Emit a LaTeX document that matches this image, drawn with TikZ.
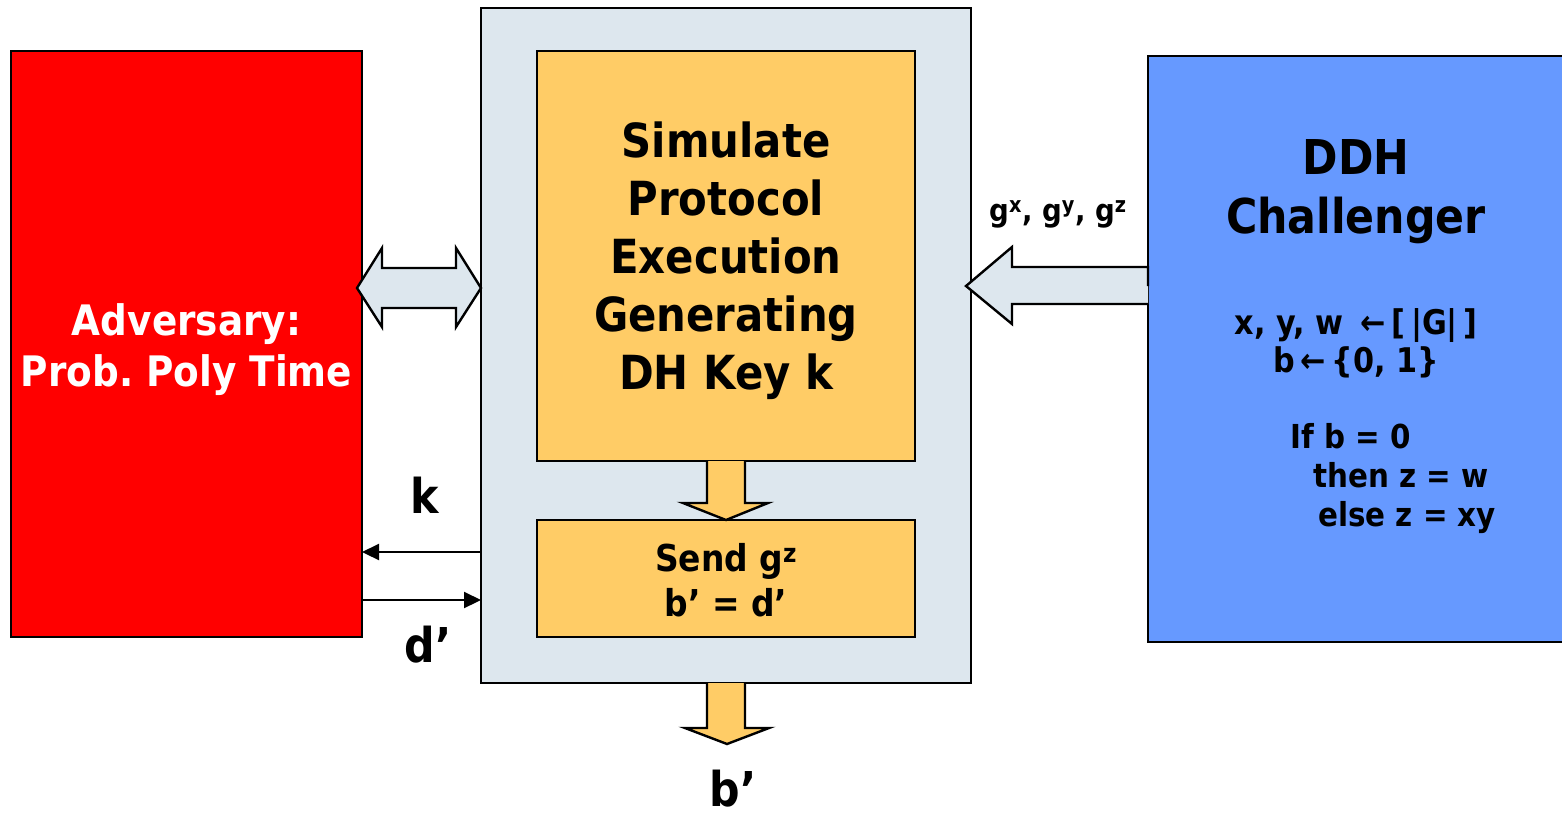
\documentclass[tikz,border=0pt]{standalone}
\usepackage{fontspec}
\setmainfont{DejaVu Sans}[FakeStretch=0.89]
\usetikzlibrary{arrows.meta,calc}

\definecolor{panelgray}{RGB}{221,231,238}
\definecolor{stepamber}{RGB}{255,204,102}
\definecolor{chalblue}{RGB}{102,153,255}
\definecolor{advred}{RGB}{255,0,0}

\newcommand\txtsize[2]{\fontsize{#1}{#2}\selectfont}
\frenchspacing

\tikzset{
  box/.style={draw=black, line width=2.6pt, rectangle, inner sep=0pt,
              outer sep=0pt, anchor=north west, align=center},
  blockarrow/.style={draw=black, line width=2.4pt, line join=miter},
  thinarrow/.style={draw=black, line width=2.2pt,
                    -{Triangle[length=17pt,width=16pt]}},
  label/.style={inner sep=0pt, align=center},
  tag/.style={inner sep=0pt, font=\bfseries\txtsize{48}{58}}
}

\begin{document}
\begin{tikzpicture}[x=1pt,y=-1pt]
\fill[white] (0,0) rectangle (1562,817);
\useasboundingbox (0,0) rectangle (1562,817);

% main boxes
\node[box, fill=advred, minimum width=351pt, minimum height=586pt] (adv) at (11,51) {};
\node[box, fill=panelgray, minimum width=490pt, minimum height=675pt] (sim) at (481,8) {};
\node[box, fill=stepamber, minimum width=378pt, minimum height=410pt] (proto) at (537,51) {};
\node[box, fill=stepamber, minimum width=378pt, minimum height=117pt] (send) at (537,520) {};
\node[box, fill=chalblue, minimum width=430pt, minimum height=586pt] (chal) at (1148,56) {};

% box texts
\node[label, text=white, font=\bfseries\txtsize{42}{51}] (advtxt)
      at ($(adv.center)+(0,6)$) {Adversary:\\Prob. Poly Time};
\node[label, font=\bfseries\txtsize{47}{58}] (prototxt)
      at ($(proto.center)+(0,5)$)
      {Simulate\\Protocol\\Execution\\Generating\\DH Key k};
\node[label, font=\bfseries\txtsize{37}{45}] (sendtxt)
      at ($(send.center)+(0,2)$) {Send g\textsuperscript{z}\\b’ = d’};

% challenger texts
\node[label, font=\bfseries\txtsize{48}{59}] (ddh) at (1356,192) {DDH\\Challenger};
\node[label, font=\bfseries\txtsize{34}{38}] (pick) at (1356,343)
      {x, y, w\enspace←\,[\,|G|\,]\\b\,←\,\{0, 1\}};
\node[label, anchor=west, align=left, font=\bfseries\txtsize{33}{39}] (cases) at (1290,479)
      {If b = 0\\\hspace*{23pt}then z = w\\\hspace*{28pt}else z = xy};

% exchange between adversary and simulator
\coordinate (dl) at (357,288);
\coordinate (dr) at (481,288);
\draw[blockarrow, fill=panelgray]
  (dl) -- ($(dl)+(25,-40)$) -- ($(dl)+(25,-20)$) -- ($(dr)+(-25,-20)$)
  -- ($(dr)+(-25,-40)$) -- (dr) -- ($(dr)+(-25,39)$) -- ($(dr)+(-25,20)$)
  -- ($(dl)+(25,20)$) -- ($(dl)+(25,39)$) -- cycle;

% challenge values sent to the simulator
\coordinate (cs) at (chal.west |- 0,286);
\coordinate (ct) at (966,286);
\draw[blockarrow, fill=panelgray]
  (cs) -- ($(cs)+(0,-19)$) -- ($(ct)+(46,-19)$) -- ($(ct)+(46,-39)$)
  -- (ct) -- ($(ct)+(46,38)$) -- ($(ct)+(46,18)$) -- ($(cs)+(0,18)$);
\node[label, font=\bfseries\txtsize{31}{36}] (gvals) at (1058,214)
  {g\textsuperscript{x}, g\textsuperscript{y}, g\textsuperscript{z}};

% key generation feeds the final step
\coordinate (p1) at (proto.south);
\coordinate (s1) at (send.north);
\draw[blockarrow, fill=stepamber]
  ($(p1)+(-19,0)$) -- ($(p1)+(-19,42)$) -- ($(s1)+(-43,-17)$) -- (s1)
  -- ($(s1)+(42,-17)$) -- ($(p1)+(19,42)$) -- ($(p1)+(19,0)$);

% output bit
\coordinate (p2) at (sim.south);
\coordinate (o2) at (727,744);
\draw[blockarrow, fill=stepamber]
  ($(p2)+(-19,0)$) -- ($(p2)+(-19,45)$) -- ($(o2)+(-42,-16)$) -- (o2)
  -- ($(o2)+(42,-16)$) -- ($(p2)+(19,45)$) -- ($(p2)+(19,0)$);
\node[tag] (bout) at (733,789) {b’};

% key and guess exchanged with the adversary
\draw[thinarrow] (sim.west |- 0,552) -- (adv.east |- 0,552);
\draw[thinarrow] (adv.east |- 0,600) -- (sim.west |- 0,600);
\node[tag] (klab) at (425,495) {k};
\node[tag] (dlab) at (428,645) {d’};
\end{tikzpicture}
\end{document}
